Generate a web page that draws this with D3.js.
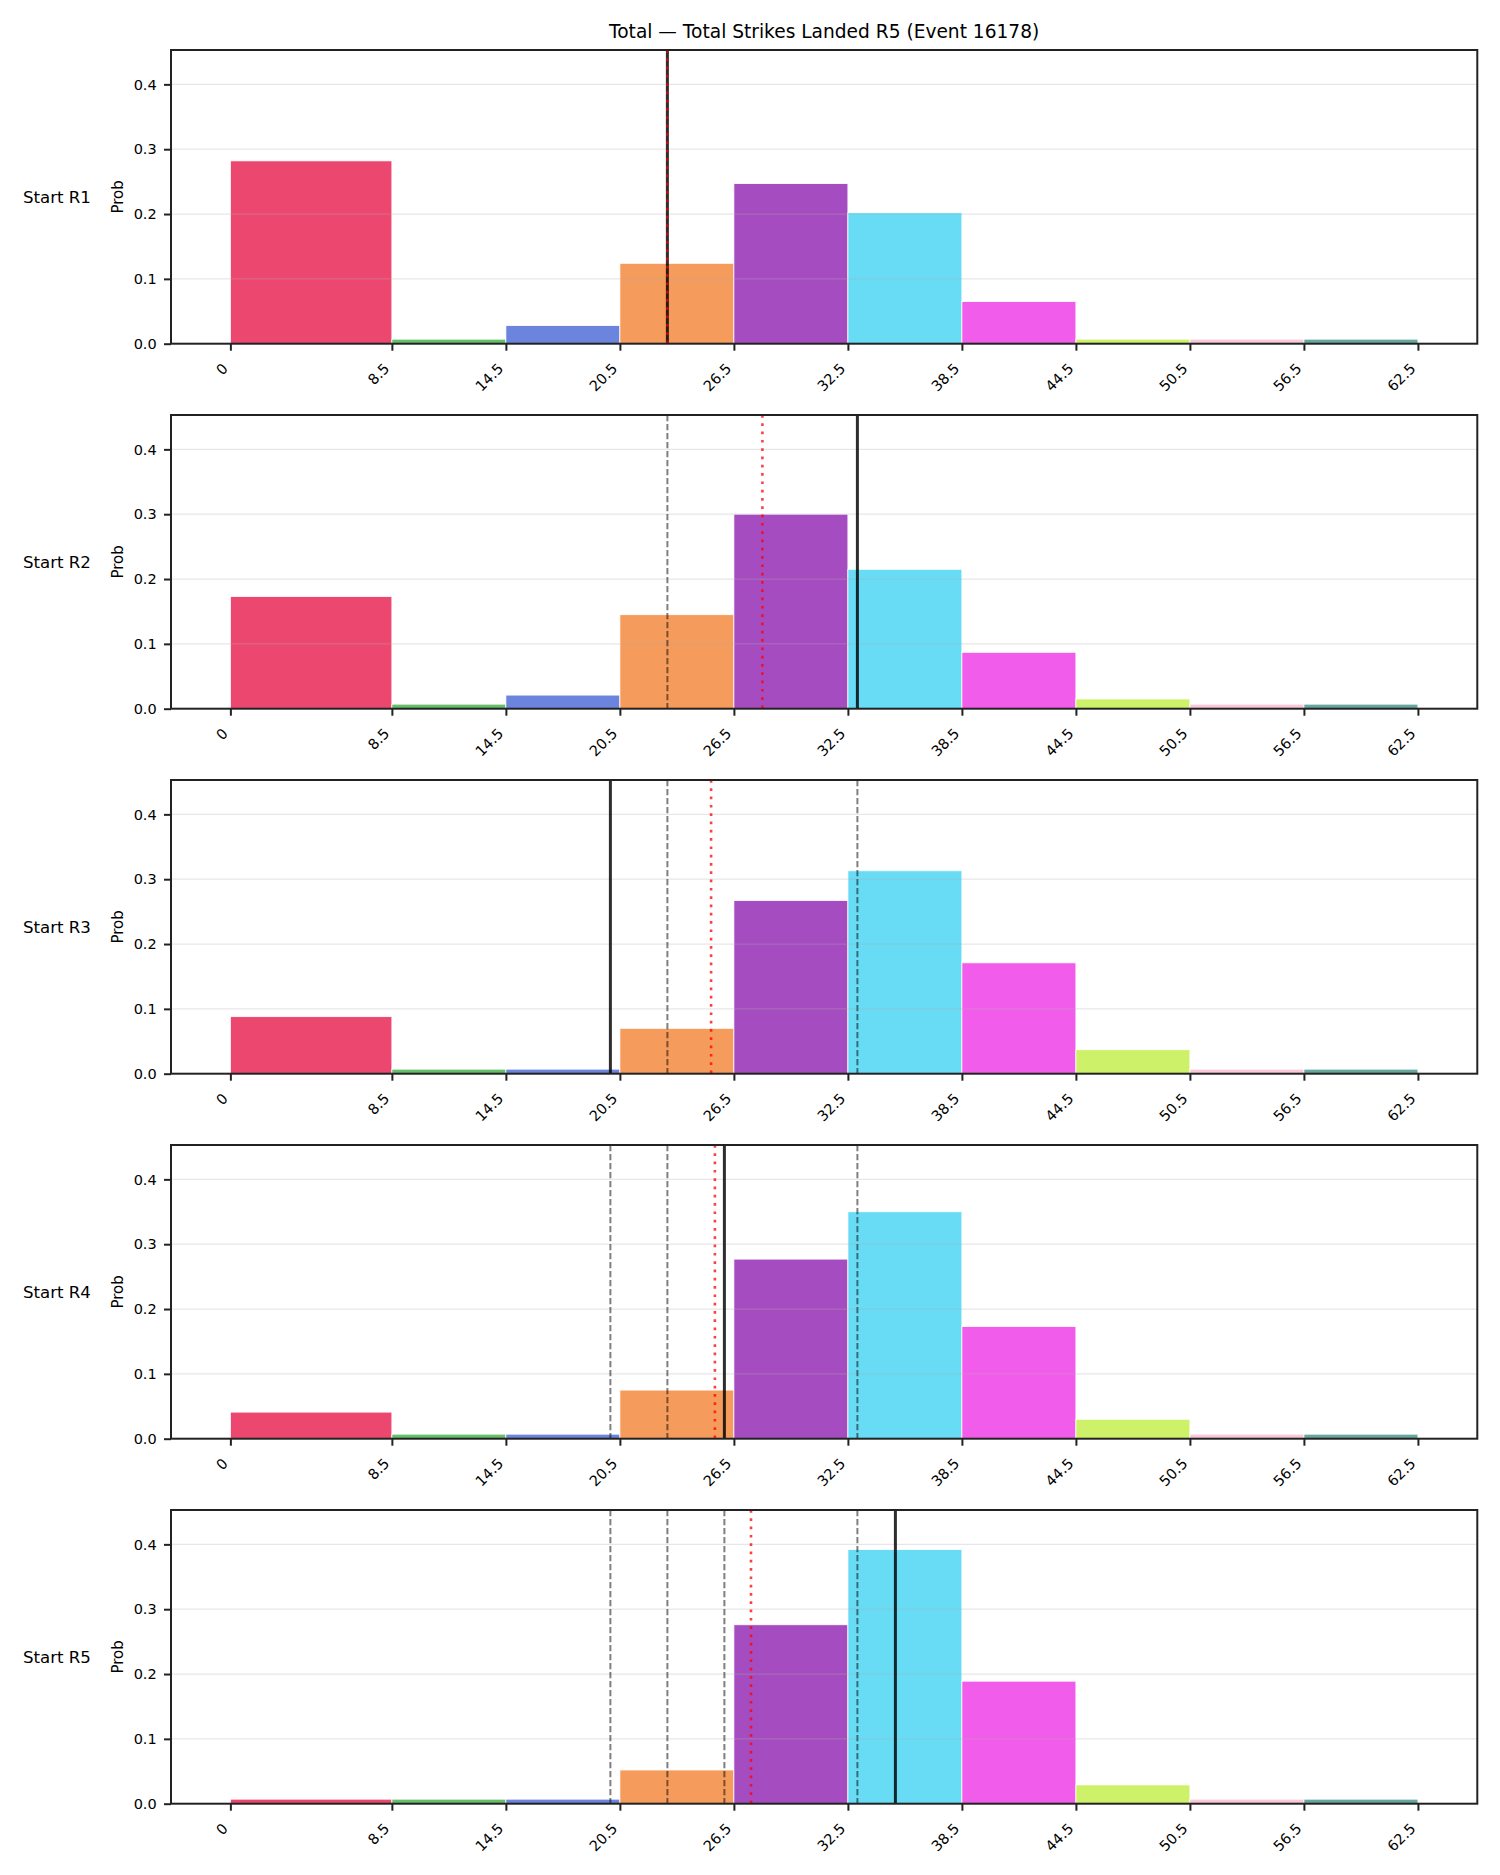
<!DOCTYPE html>
<html>
<head>
<meta charset="utf-8">
<script src="https://cdn.jsdelivr.net/npm/d3@7"></script>
<style>
  body { margin: 0; background: #fff; }
  svg { display: block; font-family: "DejaVu Sans", sans-serif; }
</style>
</head>
<body>
<div id="viz"></div>
<script>
// bin edges and tick labels
const edges = [0, 8.5, 14.5, 20.5, 26.5, 32.5, 38.5, 44.5, 50.5, 56.5, 62.5]
const binColors = ['#EC486F', '#66BF69', '#6B84DE', '#F59B5C', '#A54CC0',
                   '#68DBF5', '#F25CEA', '#CDF26A', '#FAC8D7', '#66A8A0']

const rounds = ['Start R1', 'Start R2', 'Start R3', 'Start R4', 'Start R5']

// probability per bin, one array per starting round
const probR1 = [0.282, 0.007, 0.028, 0.124, 0.247, 0.202, 0.065, 0.007, 0.007, 0.007]
const probR2 = [0.173, 0.007, 0.021, 0.145, 0.300, 0.215, 0.087, 0.015, 0.007, 0.007]
const probR3 = [0.088, 0.007, 0.007, 0.070, 0.267, 0.313, 0.171, 0.037, 0.007, 0.007]
const probR4 = [0.041, 0.007, 0.007, 0.075, 0.277, 0.350, 0.173, 0.030, 0.007, 0.007]
const probR5 = [0.007, 0.007, 0.007, 0.052, 0.276, 0.392, 0.189, 0.029, 0.007, 0.007]
const probs = [probR1, probR2, probR3, probR4, probR5]

// line at each round start (solid), earlier ones shown dashed
const roundLines = [23.0, 33.0, 20.0, 26.0, 35.0]
// expected value (red dotted)
const means = [23.0, 28.0, 25.3, 25.5, 27.4]

const yTicks = [0, 0.1, 0.2, 0.3, 0.4]

const w = 1500, h = 1875
const svg = d3.select('#viz')
    .append('svg')
    .attr('width', w)
    .attr('height', h)

const left = 171, right = 1477.3
const panelTop = 50, panelStep = 365, panelH = 293.7

const x = d3.scaleLinear()
    .domain([-3.125, 65.625])
    .range([left, right])

svg.append('text')
    .attr('x', (left + right) / 2)
    .attr('y', 37.5)
    .attr('text-anchor', 'middle')
    .attr('font-size', 18.6)
    .attr('fill', '#000')
    .text('Total \u2014 Total Strikes Landed R5 (Event 16178)')

rounds.forEach((name, i) => {
    const top = panelTop + i * panelStep
    const y = d3.scaleLinear()
        .domain([0, 0.453])
        .range([top + panelH, top])

    const g = svg.append('g')

    // bars
    const bins = probs[i].map((p, k) => ({ x0: edges[k], x1: edges[k + 1], p, c: binColors[k] }))
    g.selectAll('rect.bar')
        .data(bins)
        .enter()
        .append('rect')
        .attr('class', 'bar')
        .attr('x', d => x(d.x0))
        .attr('width', d => x(d.x1) - x(d.x0))
        .attr('y', d => y(d.p))
        .attr('height', d => y(0) - y(d.p))
        .attr('fill', d => d.c)
        .attr('stroke', '#fff')
        .attr('stroke-width', 0.8)

    // horizontal grid on top of bars
    g.selectAll('line.grid')
        .data(yTicks.slice(1))
        .enter()
        .append('line')
        .attr('x1', left).attr('x2', right)
        .attr('y1', d => y(d)).attr('y2', d => y(d))
        .attr('stroke', '#b0b0b0')
        .attr('stroke-opacity', 0.3)
        .attr('stroke-width', 1.2)

    // earlier round lines, dashed
    g.selectAll('line.prev')
        .data(roundLines.slice(0, i))
        .enter()
        .append('line')
        .attr('x1', d => x(d)).attr('x2', d => x(d))
        .attr('y1', top).attr('y2', top + panelH)
        .attr('stroke', '#000')
        .attr('stroke-opacity', 0.5)
        .attr('stroke-width', 2)
        .attr('stroke-dasharray', '6.2,2.8')

    // current round line
    g.append('line')
        .attr('x1', x(roundLines[i])).attr('x2', x(roundLines[i]))
        .attr('y1', top).attr('y2', top + panelH)
        .attr('stroke', '#000')
        .attr('stroke-opacity', 0.82)
        .attr('stroke-width', 3)

    // mean line
    g.append('line')
        .attr('x1', x(means[i])).attr('x2', x(means[i]))
        .attr('y1', top).attr('y2', top + panelH)
        .attr('stroke', 'red')
        .attr('stroke-opacity', 0.75)
        .attr('stroke-width', 2.6)
        .attr('stroke-dasharray', '2.7,5.6')

    // axes
    const yAxisG = g.append('g')
        .attr('transform', `translate(${left}, 0)`)
        .call(d3.axisLeft(y).tickValues(yTicks).tickFormat(d3.format('.1f')).tickSize(7).tickPadding(7.3))
    yAxisG.select('.domain').remove()

    const xAxisG = g.append('g')
        .attr('transform', `translate(0, ${top + panelH})`)
        .call(d3.axisBottom(x).tickValues(edges).tickFormat(d => String(d)).tickSize(7))
    xAxisG.select('.domain').remove()
    xAxisG.selectAll('text')
        .attr('text-anchor', 'end')
        .attr('x', -2)
        .attr('y', 25.8)
        .attr('dy', 0)
        .attr('transform', 'rotate(-45, -2, 25.8)')

    g.selectAll('.tick line')
        .attr('stroke', '#222')
        .attr('stroke-width', 2)
    g.selectAll('.tick text')
        .attr('fill', '#000')
        .attr('font-size', 14.5)
        .attr('font-family', '"DejaVu Sans", sans-serif')

    // spine box
    g.append('rect')
        .attr('x', left).attr('y', top)
        .attr('width', right - left).attr('height', panelH)
        .attr('fill', 'none')
        .attr('stroke', '#222')
        .attr('stroke-width', 2)

    const cy = top + panelH / 2
    g.append('text')
        .attr('transform', `translate(123, ${cy}) rotate(-90)`)
        .attr('text-anchor', 'middle')
        .attr('font-size', 15)
        .text('Prob')

    g.append('text')
        .attr('x', 23)
        .attr('y', cy + 5.8)
        .attr('font-size', 16.6)
        .text(name)
})
</script>
</body>
</html>
